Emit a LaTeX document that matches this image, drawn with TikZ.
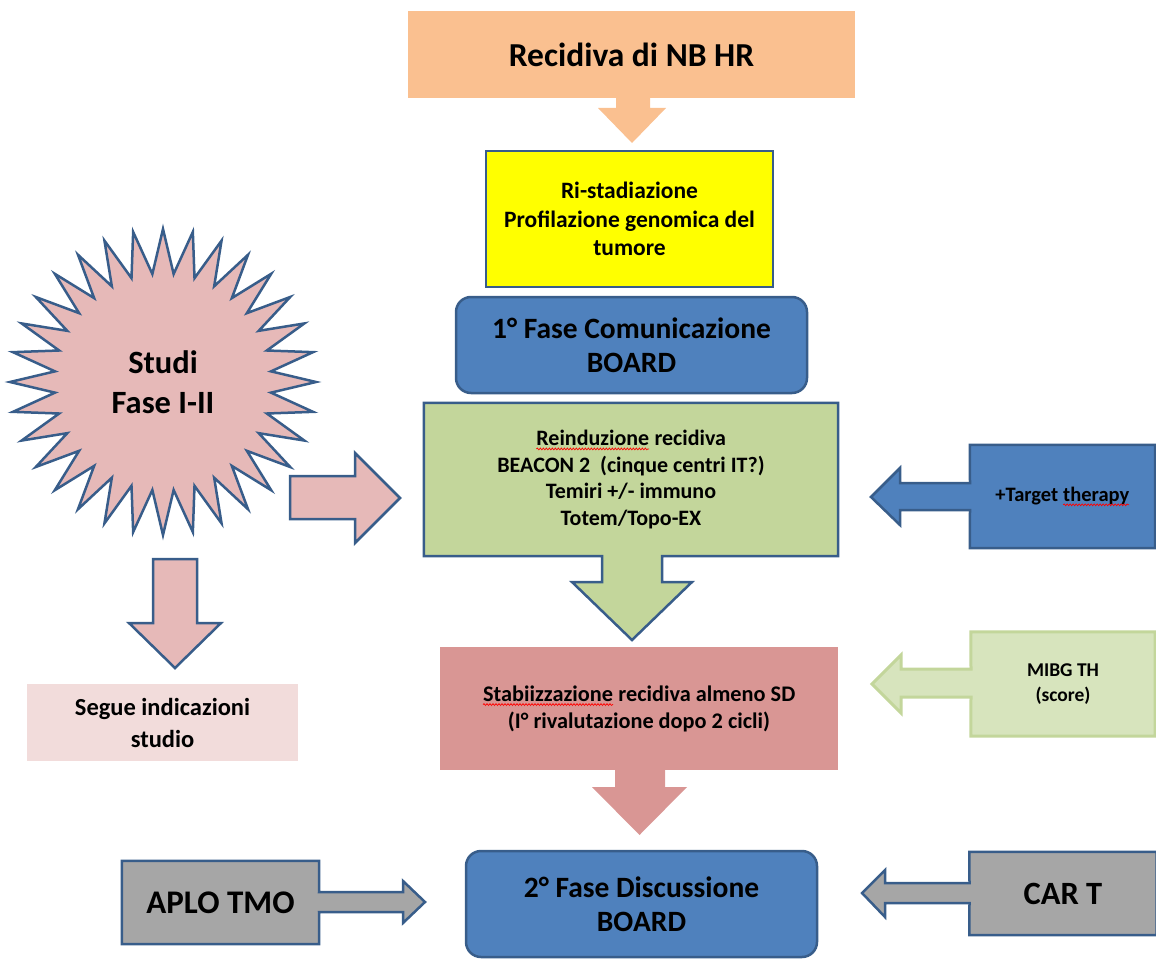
\documentclass[tikz,border=0pt]{standalone}
\usepackage{fontspec}
\setmainfont{Carlito}
\usetikzlibrary{shapes.geometric,decorations.pathmorphing}

\definecolor{bordo}{HTML}{385D8A}
\definecolor{arancio}{HTML}{FAC090}
\definecolor{giallo}{HTML}{FFFF00}
\definecolor{blu}{HTML}{4F81BD}
\definecolor{verde}{HTML}{C3D69B}
\definecolor{verdechiaro}{HTML}{D7E4BD}
\definecolor{rosa}{HTML}{E6B9B8}
\definecolor{rosachiaro}{HTML}{F2DCDB}
\definecolor{rosso}{HTML}{D99694}
\definecolor{grigio}{HTML}{A6A6A6}

\newcommand\spellwave[1]{\tikz[baseline=(w.base)]{%
        \node [rectangle, inner sep=0pt, outer sep=0pt, minimum width=0pt, minimum height=0pt, draw=none, fill=none] (w) {#1};
        \draw [red, line width=0.7pt, sharp corners, decorate, decoration={snake, amplitude=0.9pt, segment length=3pt}]
                ([yshift=-3.5pt]w.base west) -- ([yshift=-3.5pt]w.base east);}}

\pgfdeclarelayer{background}
\pgfsetlayers{background,main}

\begin{document}
\begin{tikzpicture}[x=1pt, y=-1pt]
        \tikzstyle{box}   = [rectangle, inner sep=0pt, align=center]
        \tikzstyle{edge}  = [draw=bordo, line width=2.5pt, line join=miter]
        \tikzstyle{board} = [box, edge, fill=blu, rounded corners=15pt, minimum width=351pt, font=\bfseries\fontsize{29.5}{34}\selectfont]

        \useasboundingbox (0,0) rectangle (1156,960);

        % colonna centrale
        \node [box, fill=arancio, minimum width=447pt, minimum height=87pt, font=\bfseries\fontsize{33.5}{38}\selectfont] (recidiva) at (631.5,54.5) {Recidiva di NB HR};
        \node [box, edge, fill=giallo, minimum width=287pt, minimum height=136pt, font=\bfseries\fontsize{23.5}{28.5}\selectfont] (ristadio) at (629.5,219) {Ri-stadiazione\\Profilazione genomica del\\tumore};
        \node [board, minimum height=96pt] (board1) at (631.5,345) {1° Fase Comunicazione\\BOARD};
        \node [box, minimum width=414pt, minimum height=153pt, font=\bfseries\fontsize{22}{26.7}\selectfont] (reinduzione) at (631,479.5) {\spellwave{Reinduzione} recidiva\\BEACON 2~~(cinque centri IT?)\\Temiri +/- immuno\\Totem/Topo-EX};
        \node [box, fill=rosso, minimum width=398pt, minimum height=123pt, font=\bfseries\fontsize{22.3}{27}\selectfont] (stabil) at (639,708.5) {\spellwave{Stabiizzazione} recidiva almeno SD\\(I° rivalutazione dopo 2 cicli)};
        \node [board, minimum height=106pt] (board2) at (641.5,904) {2° Fase Discussione\\BOARD};

        % lato sinistro
        \node [star, star points=32, star point ratio=1.41, minimum size=306pt, inner sep=0pt, edge, fill=rosa, align=center, font=\bfseries\fontsize{32.5}{40}\selectfont] (studi) at (163,382) {Studi\\Fase I-II};
        \node [box, fill=rosachiaro, minimum width=271pt, minimum height=77pt, font=\bfseries\fontsize{24.5}{32}\selectfont] (segue) at (162.5,722.5) {Segue indicazioni\\studio};
        \node [box, minimum width=197pt, minimum height=83pt, font=\bfseries\fontsize{33}{38}\selectfont] (aplo) at (220.5,902.5) {APLO TMO};

        % lato destro
        \node [box, minimum width=185pt, minimum height=103pt, font=\bfseries\fontsize{20.5}{24}\selectfont] (target) at (1062.5,496.5) {+Target \spellwave{therapy}};
        \node [box, minimum width=184pt, minimum height=104pt, font=\bfseries\fontsize{19.5}{25}\selectfont] (mibg) at (1063,684) {MIBG TH\\(score)};
        \node [box, minimum width=187pt, minimum height=83pt, font=\bfseries\fontsize{32.5}{38}\selectfont] (cart) at (1063,893.5) {CAR T};

        \begin{pgfonlayer}{background}
                % frecce verso il basso
                \fill [arancio] (616,97) -- (616,108) -- (598,108) -- (632,143) -- (666,108) -- (650,108) -- (650,97) -- cycle;
                \draw [edge, fill=verde] (reinduzione.north west) -- (reinduzione.north east) -- (reinduzione.south east)
                        -- (662,556) -- (662,582) -- (692,582) -- (632,640) -- (572,582) -- (602,582) -- (602,556)
                        -- (reinduzione.south west) -- cycle;
                \fill [rosso] (615,769) -- (615,787) -- (592,787) -- (639.5,835) -- (687,787) -- (665,787) -- (665,769) -- cycle;

                % frecce dello studio
                \draw [edge, fill=rosa] (290,476) -- (355,476) -- (355,453) -- (400,498) -- (355,543) -- (355,519) -- (290,519) -- cycle;
                \draw [edge, fill=rosa] (153,559) -- (197,559) -- (197,623) -- (221,623) -- (175,668) -- (129,623) -- (153,623) -- cycle;

                % riquadri con freccia laterale
                \draw [edge, fill=blu] (target.north west) -- (target.north east) -- (target.south east) -- (target.south west)
                        -- (970,510) -- (900,510) -- (900,525) -- (871,497) -- (900,468) -- (900,483) -- (970,483) -- cycle;
                \draw [edge, draw=verde, line width=3pt, fill=verdechiaro] (mibg.north west) -- (mibg.north east) -- (mibg.south east) -- (mibg.south west)
                        -- (971,697) -- (901,697) -- (901,713) -- (872,684) -- (901,655) -- (901,669) -- (971,669) -- cycle;
                \draw [edge, fill=grigio] (cart.north west) -- (cart.north east) -- (cart.south east) -- (cart.south west)
                        -- (969.5,903) -- (885,903) -- (885,917) -- (862,893) -- (885,870) -- (885,883) -- (969.5,883) -- cycle;
                \draw [edge, fill=grigio] (aplo.north west) -- (aplo.north east)
                        -- (319,892) -- (403,892) -- (403,881) -- (425,902) -- (403,923) -- (403,912) -- (319,912)
                        -- (aplo.south east) -- (aplo.south west) -- cycle;
        \end{pgfonlayer}
\end{tikzpicture}
\end{document}
